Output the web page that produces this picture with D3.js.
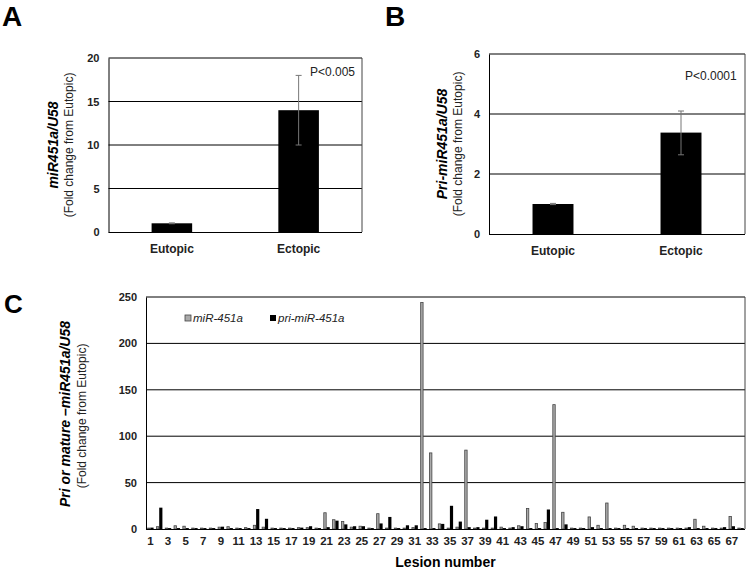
<!DOCTYPE html>
<html>
<head>
<meta charset="utf-8">
<script src="https://cdn.jsdelivr.net/npm/d3@7"></script>
<style>
html,body{margin:0;padding:0;background:#fff;}
svg{display:block;font-family:"Liberation Sans",Arial,sans-serif;}
</style>
</head>
<body>
<svg id="chart" width="748" height="570"></svg>
<script>
// ---------- Data ----------
const groupsAB = ["Eutopic", "Ectopic"];
const matureMeans = [1.0, 14.0];
const matureLow = [0.95, 10.0];
const matureHigh = [1.05, 18.0];
const matureTicks = [0, 5, 10, 15, 20];

const priMeans = [1.0, 3.38];
const priLow = [0.98, 2.64];
const priHigh = [1.02, 4.1];
const priTicks = [0, 2, 4, 6];

const lesions = [1,2,3,4,5,6,7,8,9,10,11,12,13,14,15,16,17,18,19,20,21,22,23,24,25,26,27,28,29,30,31,32,33,34,
  35,36,37,38,39,40,41,42,43,44,45,46,47,48,49,50,51,52,53,54,55,56,57,58,59,60,61,62,63,64,65,66,67,68];
const lesionMature = [1,2.5,1,3.5,3,1,1,1,2,2.5,1,1.5,4,2,1,1,1,1.5,1.5,1,17.5,10,8,2,3,1,16.5,1,1,1,1.5,244,82,5.5,
  1,2,85,1,1,1,2,1,3.5,22,6,7,134,18,1,1,13,4,28,1,4,3,1,1,1,1,1,1,10.5,3,1,1,13.5,1];
const lesionPri = [1.5,23,1,1,1,1,1,1,2.5,1,1,1,21.5,11,1,1,1,1.5,3,1,2,9,5,3,3,1,6,13,1,4,4,1,1,5.5,
  25,8,2,2,10,13.5,1,2,3,1,1,21,1,5,1,1,2,1,1,1,1,1,1,1,1,1,1,2,1,1,1,2,3,1];
const lesionTicks = [1,3,5,7,9,11,13,15,17,19,21,23,25,27,29,31,33,35,37,39,41,43,45,47,49,51,53,55,57,59,61,63,65,67];
const cTicks = [0, 50, 100, 150, 200, 250];
const seriesNames = ["miR-451a", "pri-miR-451a"];

const svg = d3.select("#chart");

// ---------- Small bar panel ----------
function smallPanel(opt) {
  const g = svg.append("g");
  const x = d3.scaleBand().domain(groupsAB).range([opt.x0, opt.x1]).paddingInner(0.68).paddingOuter(0.34);
  const y = d3.scaleLinear().domain([0, opt.max]).range([opt.y0, opt.y1]);

  g.selectAll("line.grid").data(opt.ticks.filter(t => t > 0)).join("line")
    .attr("x1", opt.x0).attr("x2", opt.x1)
    .attr("y1", d => y(d)).attr("y2", d => y(d))
    .attr("stroke", "#000").attr("stroke-width", 1);
  g.append("line").attr("x1", opt.x1).attr("x2", opt.x1).attr("y1", opt.y1).attr("y2", opt.y0)
    .attr("stroke", "#444").attr("stroke-width", 1);

  g.selectAll("rect.bar").data(groupsAB).join("rect")
    .attr("x", d => x(d)).attr("width", x.bandwidth())
    .attr("y", (d, i) => y(opt.means[i]))
    .attr("height", (d, i) => y(0) - y(opt.means[i]))
    .attr("fill", "#000");

  const eb = g.selectAll("g.eb").data(groupsAB).join("g");
  eb.append("line")
    .attr("x1", d => x(d) + x.bandwidth() / 2).attr("x2", d => x(d) + x.bandwidth() / 2)
    .attr("y1", (d, i) => y(opt.low[i])).attr("y2", (d, i) => y(opt.high[i]))
    .attr("stroke", "#777").attr("stroke-width", 1);
  eb.append("line")
    .attr("x1", d => x(d) + x.bandwidth() / 2 - 3).attr("x2", d => x(d) + x.bandwidth() / 2 + 3)
    .attr("y1", (d, i) => y(opt.high[i])).attr("y2", (d, i) => y(opt.high[i]))
    .attr("stroke", "#777").attr("stroke-width", 1);
  eb.append("line")
    .attr("x1", d => x(d) + x.bandwidth() / 2 - 3).attr("x2", d => x(d) + x.bandwidth() / 2 + 3)
    .attr("y1", (d, i) => y(opt.low[i])).attr("y2", (d, i) => y(opt.low[i]))
    .attr("stroke", "#777").attr("stroke-width", 1);

  const ya = g.append("g").attr("transform", `translate(${opt.x0},0)`)
    .call(d3.axisLeft(y).tickValues(opt.ticks).tickSize(0).tickPadding(9).tickFormat(d3.format("d")));
  ya.select(".domain").attr("stroke", "#000");
  ya.selectAll("text").attr("font-size", 11).attr("font-weight", "bold").attr("fill", "#222")
    .attr("font-family", "'Liberation Sans',Arial,sans-serif");

  const xa = g.append("g").attr("transform", `translate(0,${opt.y0})`)
    .call(d3.axisBottom(x).tickSize(0).tickPadding(12));
  xa.select(".domain").attr("stroke", "#000").attr("d", `M${opt.x0},0.5H${opt.x1}`);
  xa.selectAll("text").attr("font-size", 12).attr("font-weight", "bold").attr("fill", "#222")
    .attr("font-family", "'Liberation Sans',Arial,sans-serif");

  const yc = (opt.y0 + opt.y1) / 2;
  g.append("text").attr("transform", `translate(${opt.t1x},${yc}) rotate(-90)`)
    .attr("text-anchor", "middle").attr("dy", "0.35em")
    .attr("font-size", 14).attr("font-weight", "bold").attr("font-style", "italic")
    .text(opt.title);
  g.append("text").attr("transform", `translate(${opt.t2x},${yc}) rotate(-90)`)
    .attr("text-anchor", "middle").attr("dy", "0.35em")
    .attr("font-size", 12).attr("fill", "#222")
    .text("(Fold change from Eutopic)");

  g.append("text").attr("x", opt.px).attr("y", opt.py).attr("font-size", 12).attr("fill", "#222").text(opt.ptext);

  g.append("text").attr("x", opt.lx).attr("y", 26).attr("font-size", 28).attr("font-weight", "bold").text(opt.letter);
}

smallPanel({
  x0: 108.5, x1: 362, y0: 232, y1: 58, max: 20, ticks: matureTicks,
  means: matureMeans, low: matureLow, high: matureHigh,
  title: "miR451a/U58", t1x: 53, t2x: 69,
  ptext: "P<0.005", px: 310, py: 76, letter: "A", lx: 2
});
smallPanel({
  x0: 489, x1: 745, y0: 234, y1: 54, max: 6, ticks: priTicks,
  means: priMeans, low: priLow, high: priHigh,
  title: "Pri-miR451a/U58", t1x: 442, t2x: 458,
  ptext: "P<0.0001", px: 685, py: 80, letter: "B", lx: 385
});

// ---------- Panel C ----------
(function () {
  const x0 = 146, x1 = 745, y0 = 529, y1 = 297;
  const g = svg.append("g");
  const x = d3.scaleBand().domain(lesions).range([x0, x1]).padding(0);
  const xs = d3.scaleBand().domain(seriesNames).range([0, x.bandwidth()]).paddingInner(0).paddingOuter(0.38);
  const y = d3.scaleLinear().domain([0, 250]).range([y0, y1]);

  g.selectAll("line.grid").data(cTicks.filter(t => t > 0)).join("line")
    .attr("x1", x0).attr("x2", x1).attr("y1", d => y(d)).attr("y2", d => y(d))
    .attr("stroke", "#000").attr("stroke-width", 1);
  g.append("line").attr("x1", x1).attr("x2", x1).attr("y1", y1).attr("y2", y0)
    .attr("stroke", "#444").attr("stroke-width", 1);

  const data = lesions.map((l, i) => ({ l, vals: [lesionMature[i], lesionPri[i]] }));
  const grp = g.selectAll("g.les").data(data).join("g")
    .attr("transform", d => `translate(${x(d.l)},0)`);
  grp.selectAll("rect").data(d => d.vals.map((v, k) => ({ s: seriesNames[k], v }))).join("rect")
    .attr("x", d => xs(d.s) + (d.s === seriesNames[0] ? 0.4 : 0))
    .attr("width", d => d.s === seriesNames[0] ? xs.bandwidth() - 0.8 : xs.bandwidth())
    .attr("y", d => y(d.v))
    .attr("height", d => y(0) - y(d.v))
    .attr("fill", d => d.s === seriesNames[0] ? "#aaaaaa" : "#000")
    .attr("stroke", d => d.s === seriesNames[0] ? "#444" : "none")
    .attr("stroke-width", 0.8);

  const ya = g.append("g").attr("transform", `translate(${x0},0)`)
    .call(d3.axisLeft(y).tickValues(cTicks).tickSize(0).tickPadding(9));
  ya.select(".domain").attr("stroke", "#000");
  ya.selectAll("text").attr("font-size", 11).attr("font-weight", "bold").attr("fill", "#222")
    .attr("font-family", "'Liberation Sans',Arial,sans-serif");

  const xa = g.append("g").attr("transform", `translate(0,${y0})`)
    .call(d3.axisBottom(x).tickValues(lesionTicks).tickSize(0).tickPadding(8));
  xa.select(".domain").attr("stroke", "#000").attr("d", `M${x0},0.5H${x1}`);
  xa.selectAll("text").attr("font-size", 11.5).attr("font-weight", "bold").attr("fill", "#222")
    .attr("font-family", "'Liberation Sans',Arial,sans-serif");

  g.append("text").attr("x", (x0 + x1) / 2).attr("y", 567).attr("text-anchor", "middle")
    .attr("font-size", 14).attr("font-weight", "bold").text("Lesion number");

  const yc = 414;
  g.append("text").attr("transform", `translate(65,${yc}) rotate(-90)`)
    .attr("text-anchor", "middle").attr("dy", "0.35em")
    .attr("font-size", 14).attr("font-weight", "bold").attr("font-style", "italic")
    .text("Pri or mature \u2013miR451a/U58");
  g.append("text").attr("transform", `translate(82,${yc + 2}) rotate(-90)`)
    .attr("text-anchor", "middle").attr("dy", "0.35em")
    .attr("font-size", 12).attr("fill", "#222")
    .text("(Fold change from Eutopic)");

  const legX = [185, 270];
  const lg = g.selectAll("g.leg").data(seriesNames).join("g")
    .attr("transform", (d, i) => `translate(${legX[i]},318)`);
  lg.append("rect").attr("x", 0).attr("y", -3).attr("width", 6).attr("height", 6)
    .attr("fill", (d, i) => i === 0 ? "#aaaaaa" : "#000")
    .attr("stroke", (d, i) => i === 0 ? "#444" : "none").attr("stroke-width", 0.8);
  lg.append("text").attr("x", 8).attr("dy", "0.35em").attr("font-size", 11.5)
    .attr("font-style", "italic").attr("fill", "#222").text(d => d);

  g.append("text").attr("x", 4).attr("y", 313).attr("font-size", 26).attr("font-weight", "bold").text("C");
})();
</script>
</body>
</html>
